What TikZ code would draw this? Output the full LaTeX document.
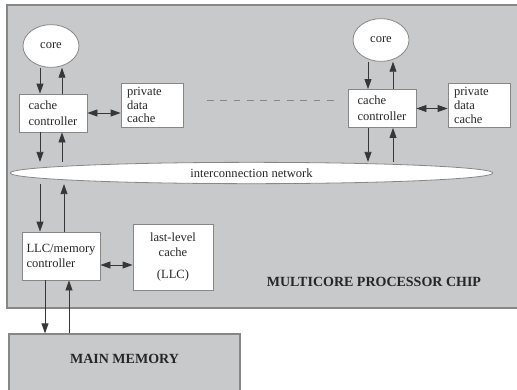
\documentclass[tikz,border=0pt]{standalone}
\usepackage{fontspec}
\setmainfont{Liberation Serif}
\usetikzlibrary{arrows.meta,shapes.geometric}
\definecolor{chipgray}{RGB}{200,201,203}
\definecolor{edgegray}{RGB}{135,135,135}
\definecolor{inkgray}{RGB}{55,55,55}

\begin{document}
\begin{tikzpicture}[x=0.75pt,y=-0.75pt,
    >={Triangle[length=7.5pt,width=5.2pt]},line width=0.6pt,
    font=\fontsize{9.4}{11.5}\selectfont,text=black!85,
    box/.style={draw=edgegray,fill=white,inner sep=0pt,align=left},
    coreshape/.style={ellipse,draw=edgegray,fill=white,inner sep=0pt,
      minimum width=42pt,minimum height=32pt},
    link/.style={->,draw=inkgray},
    biglabel/.style={font=\fontsize{10.5}{12}\selectfont\bfseries}]

  \useasboundingbox (0,0) rectangle (517,389);
  \clip (0,0) rectangle (517,389);
  \path[fill=chipgray,draw=edgegray,line width=0.9pt] (7,5) rectangle (540,308);

  \node[coreshape] (core1) at (51,46) {core};
  \node[coreshape] (core2) at (381,40) {core};
  \node[box,minimum width=51pt,minimum height=28.5pt] (cc1) at (53,113) {cache\\[0.6pt]controller};
  \node[box,minimum width=51pt,minimum height=28.5pt] (cc2) at (382,108.5) {cache\\[0.6pt]controller};
  \node[box,text width=37.5pt,inner xsep=4.5pt,minimum height=33pt,
    font=\fontsize{9.4}{10.3}\selectfont] (pdc1) at (152,105) {private\\data\\cache};
  \node[box,text width=37.5pt,inner xsep=4.5pt,minimum height=33pt,
    font=\fontsize{9.4}{10.3}\selectfont] (pdc2) at (479,105.5) {private\\data\\cache};
  \node[ellipse,draw=edgegray,fill=white,inner sep=0pt,
    minimum width=362pt,minimum height=16pt] (net) at (251.5,173) {interconnection network};
  \node[box,minimum width=58.5pt,minimum height=36pt] (llcmc) at (61,256) {LLC/memory\\controller};
  \node[box,align=center,minimum width=60pt,minimum height=49.5pt] (llc) at (173,257)
    {last-level\\cache\\[5pt](LLC)};
  \node[draw=edgegray,fill=chipgray,line width=0.9pt,minimum width=173.25pt,
    minimum height=57pt] (mem) at (124.5,372) {};
  \node[biglabel] (memlabel) at (124.5,359) {MAIN MEMORY};
  \node[biglabel,anchor=west] (chiplabel) at (262,282) {MULTICORE PROCESSOR CHIP};

  \coordinate (dashL) at (207,100);
  \coordinate (dashR) at (337,100);
  \draw[draw=edgegray,dash pattern=on 5pt off 5pt] (dashL) -- (dashR);

  \draw[link] (core1.south -| 40,0) -- (cc1.north -| 40,0);
  \draw[link] (cc1.north -| 62,0) -- (core1.south -| 62,0);
  \draw[link] (cc1.south -| 40,0) -- (net.north -| 40,0);
  \draw[link] (net.north -| 62,0) -- (cc1.south -| 62,0);
  \draw[link] (core2.south -| 368,0) -- (cc2.north -| 368,0);
  \draw[link] (cc2.north -| 393,0) -- (core2.south -| 393,0);
  \draw[link] (cc2.south -| 368,0) -- (net.north -| 368,0);
  \draw[link] (net.north -| 393,0) -- (cc2.south -| 393,0);
  \draw[link] (net.south -| 40,0) -- (llcmc.north -| 40,0);
  \draw[link] (llcmc.north -| 64,0) -- (net.south -| 64,0);
  \draw[link] (llcmc.south -| 45,0) -- (mem.north -| 45,0);
  \draw[link] (mem.north -| 69,0) -- (llcmc.south -| 69,0);
  \draw[link,<->] (cc1.east) -- (cc1.east -| pdc1.west);
  \draw[link,<->] (cc2.east) -- (cc2.east -| pdc2.west);
  \draw[link,<->] ([yshift=-6.75pt]llcmc.east) -- ([yshift=-6.75pt]llcmc.east -| llc.west);

\end{tikzpicture}
\end{document}
